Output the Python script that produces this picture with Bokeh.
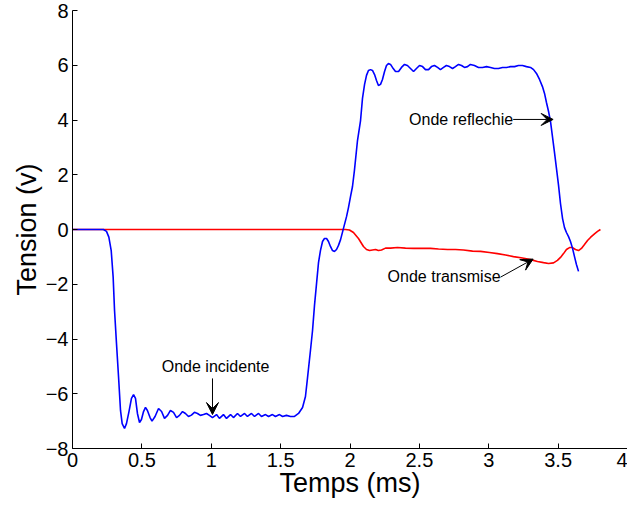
from bokeh.plotting import figure
from bokeh.models import Arrow, VeeHead, Label, FixedTicker, Range1d
from bokeh.embed import file_html
from bokeh.resources import INLINE

x_ticks = [0, 0.5, 1, 1.5, 2, 2.5, 3, 3.5, 4]
x_tick_labels = ["0", "0.5", "1", "1.5", "2", "2.5", "3", "3.5", "4"]
y_ticks = [-8, -6, -4, -2, 0, 2, 4, 6, 8]
y_tick_labels = ["\u22128", "\u22126", "\u22124", "\u22122", "0", "2", "4", "6", "8"]

# Onde incidente / reflechie (blue)
blue_t = [0.000, 0.202, 0.223, 0.245, 0.262, 0.279, 0.293, 0.303, 0.317, 0.332,
          0.346, 0.358, 0.375, 0.389, 0.407, 0.425, 0.440, 0.454, 0.468, 0.483,
          0.497, 0.512, 0.526, 0.540, 0.559, 0.573, 0.595, 0.620, 0.642, 0.663,
          0.685, 0.706, 0.728, 0.750, 0.771, 0.793, 0.814, 0.836, 0.857, 0.879,
          0.901, 0.922, 0.944, 0.966, 0.987, 1.009, 1.038, 1.059, 1.088, 1.110,
          1.139, 1.160, 1.189, 1.211, 1.240, 1.261, 1.290, 1.312, 1.341, 1.362,
          1.391, 1.413, 1.441, 1.463, 1.492, 1.514, 1.542, 1.571, 1.600, 1.629,
          1.658, 1.679, 1.694, 1.715, 1.730, 1.744, 1.759, 1.773, 1.787, 1.802,
          1.816, 1.831, 1.845, 1.859, 1.874, 1.888, 1.903, 1.917, 1.932, 1.953,
          1.975, 1.989, 2.004, 2.018, 2.032, 2.054, 2.076, 2.090, 2.105, 2.119,
          2.133, 2.148, 2.162, 2.177, 2.191, 2.205, 2.220, 2.234, 2.249, 2.263,
          2.277, 2.292, 2.306, 2.328, 2.350, 2.371, 2.393, 2.414, 2.436, 2.458,
          2.479, 2.501, 2.523, 2.544, 2.566, 2.587, 2.609, 2.631, 2.652, 2.674,
          2.695, 2.717, 2.739, 2.760, 2.782, 2.804, 2.825, 2.847, 2.868, 2.897,
          2.926, 2.955, 2.984, 3.013, 3.041, 3.070, 3.099, 3.128, 3.157, 3.186,
          3.214, 3.243, 3.272, 3.301, 3.323, 3.344, 3.366, 3.387, 3.402, 3.416,
          3.431, 3.445, 3.459, 3.474, 3.488, 3.503, 3.517, 3.532, 3.546, 3.560,
          3.575, 3.589, 3.604, 3.618, 3.632, 3.647]
blue_v = [0.00, 0.00, 0.00, -0.07, -0.28, -0.77, -1.74, -2.96, -4.16, -5.40,
          -6.61, -7.09, -7.27, -7.09, -6.65, -6.17, -6.03, -6.17, -6.72, -7.05,
          -6.94, -6.65, -6.50, -6.61, -6.87, -7.00, -6.83, -6.54, -6.65, -6.90,
          -6.79, -6.61, -6.68, -6.87, -6.79, -6.65, -6.72, -6.83, -6.78, -6.68,
          -6.72, -6.79, -6.76, -6.72, -6.79, -6.87, -6.76, -6.90, -6.76, -6.90,
          -6.76, -6.87, -6.72, -6.83, -6.72, -6.83, -6.72, -6.83, -6.72, -6.83,
          -6.76, -6.83, -6.76, -6.83, -6.76, -6.83, -6.79, -6.83, -6.83, -6.72,
          -6.50, -6.10, -5.41, -4.42, -3.69, -2.78, -1.97, -1.21, -0.77, -0.44,
          -0.33, -0.33, -0.44, -0.62, -0.77, -0.80, -0.73, -0.58, -0.37, 0.04,
          0.47, 0.80, 1.21, 1.57, 2.16, 3.25, 3.98, 4.79, 5.30, 5.63,
          5.81, 5.84, 5.81, 5.66, 5.44, 5.26, 5.30, 5.48, 5.77, 5.99,
          6.06, 6.03, 5.92, 5.77, 5.77, 5.92, 6.03, 5.99, 5.88, 5.77,
          5.88, 5.99, 5.95, 5.84, 5.84, 5.95, 5.99, 5.92, 5.84, 5.92,
          5.99, 5.95, 5.88, 5.95, 6.03, 5.99, 5.92, 5.95, 6.03, 5.99,
          5.92, 5.92, 5.95, 5.92, 5.88, 5.88, 5.92, 5.92, 5.95, 5.95,
          5.99, 5.99, 5.95, 5.92, 5.84, 5.70, 5.48, 5.22, 4.97, 4.64,
          4.31, 3.95, 3.40, 2.81, 2.23, 1.61, 0.95, 0.40, 0.07, -0.11,
          -0.26, -0.44, -0.69, -0.99, -1.28, -1.53]

# Onde transmise (red)
red_t = [0.000, 1.968, 1.996, 2.025, 2.061, 2.097, 2.119, 2.141, 2.162, 2.184,
         2.205, 2.227, 2.256, 2.292, 2.342, 2.400, 2.458, 2.523, 2.580, 2.638,
         2.703, 2.760, 2.818, 2.883, 2.941, 3.005, 3.063, 3.121, 3.178, 3.243,
         3.301, 3.351, 3.395, 3.431, 3.467, 3.495, 3.517, 3.539, 3.560, 3.582,
         3.604, 3.625, 3.647, 3.668, 3.690, 3.712, 3.733, 3.762, 3.784, 3.805]
red_v = [0.00, 0.00, -0.02, -0.11, -0.33, -0.62, -0.73, -0.77, -0.75, -0.73,
         -0.77, -0.75, -0.68, -0.68, -0.66, -0.68, -0.69, -0.69, -0.69, -0.71,
         -0.73, -0.73, -0.75, -0.79, -0.80, -0.84, -0.88, -0.93, -0.99, -1.04,
         -1.10, -1.17, -1.21, -1.24, -1.22, -1.13, -1.02, -0.88, -0.73, -0.66,
         -0.66, -0.73, -0.77, -0.69, -0.55, -0.40, -0.29, -0.16, -0.07, 0.00]

FONT = "Liberation Sans"

p = figure(width=627, height=506, output_backend="svg", toolbar_location=None,
           x_range=Range1d(0, 4), y_range=Range1d(-8, 8),
           min_border_left=72, min_border_right=0, min_border_top=10,
           min_border_bottom=58)
p.background_fill_color = "white"
p.border_fill_color = "white"
p.outline_line_color = None
p.xgrid.grid_line_color = None
p.ygrid.grid_line_color = None

for ax, ticks, labels in ((p.xaxis[0], x_ticks, x_tick_labels),
                          (p.yaxis[0], y_ticks, y_tick_labels)):
    ax.ticker = FixedTicker(ticks=ticks)
    ax.major_label_overrides = {float(t): l for t, l in zip(ticks, labels)}
    ax.minor_tick_line_color = None
    ax.major_tick_in = 5
    ax.major_tick_out = 0
    ax.axis_line_color = "black"
    ax.major_tick_line_color = "black"
    ax.major_label_text_font = FONT
    ax.major_label_text_font_size = "20px"
    ax.major_label_text_color = "black"
    ax.major_label_standoff = 4
    ax.axis_label_text_font = FONT
    ax.axis_label_text_font_size = "27px"
    ax.axis_label_text_font_style = "normal"
    ax.axis_label_text_color = "black"

p.yaxis.axis_label = "Tension (v)"
p.yaxis.axis_label_standoff = 1
p.xaxis.axis_label = "Temps (ms)"
p.xaxis.axis_label_standoff = -2

p.line(red_t, red_v, line_color="#ff0000", line_width=1.6)
p.line(blue_t, blue_v, line_color="#0000ff", line_width=1.6)

ann_font = dict(text_font=FONT, text_font_size="16px", text_color="black",
                text_baseline="middle")
p.add_layout(Label(x=1.031, y=-5.0, text="Onde incidente", text_align="center", **ann_font))
p.add_layout(Label(x=3.176, y=4.02, text="Onde reflechie", text_align="right", **ann_font))
p.add_layout(Label(x=3.085, y=-1.72, text="Onde transmise", text_align="right", **ann_font))

def arrow(x0, y0, x1, y1):
    p.add_layout(Arrow(end=VeeHead(size=12, fill_color="black", line_color="black",
                                   line_width=1),
                       x_start=x0, y_start=y0, x_end=x1, y_end=y1,
                       line_color="black", line_width=1))

arrow(1.009, -5.44, 1.009, -6.76)
arrow(3.176, 4.02, 3.464, 4.02)
arrow(3.085, -1.74, 3.320, -1.08)

open("out.html", "w").write(file_html(p, INLINE))
